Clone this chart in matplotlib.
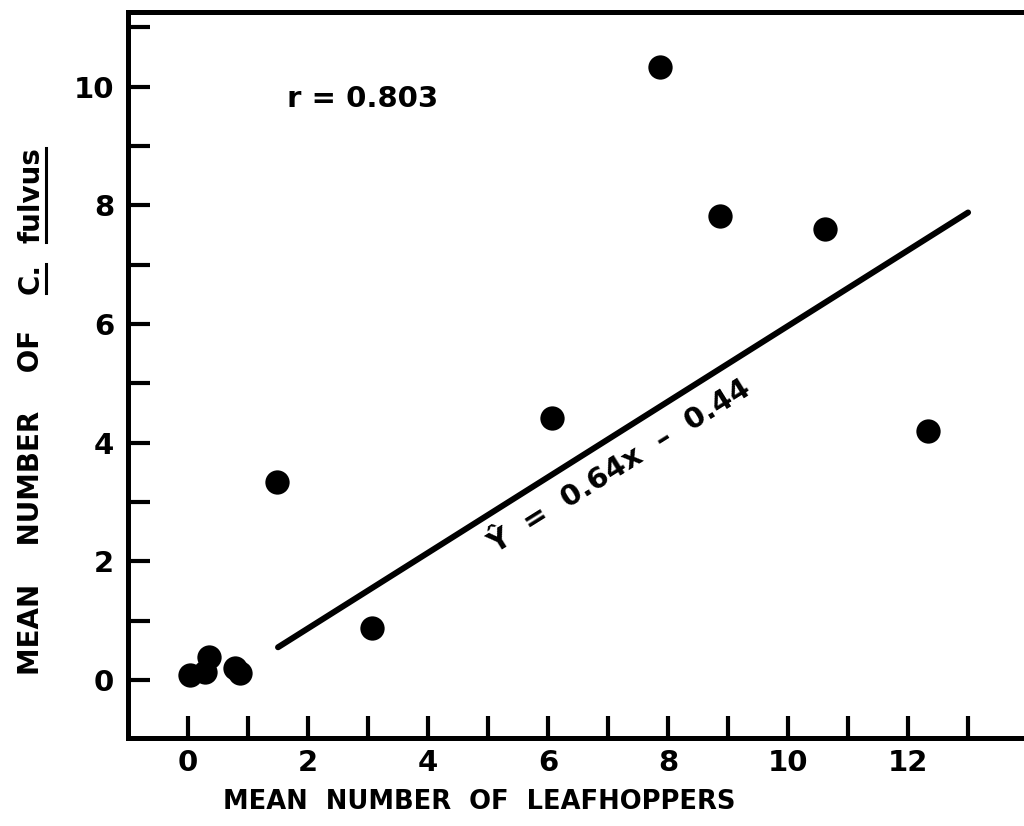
"""Leafhopper vs C. fulvus scatter with regression line."""
import matplotlib
matplotlib.use("Agg")
import matplotlib.pyplot as plt
from matplotlib.lines import Line2D

# mean number of leafhoppers (x) and C. fulvus (y)
leafhoppers = [0.03, 0.28, 0.35, 0.78, 0.87, 1.48, 3.07, 6.07, 7.87, 8.87, 10.62, 12.33]
fulvus      = [0.08, 0.13, 0.39, 0.20, 0.12, 3.34, 0.88, 4.42, 10.34, 7.82, 7.60, 4.20]

# fitted line endpoints
fit_x = [1.5, 13.0]
fit_y = [0.55, 7.88]

x_ticks = [0, 2, 4, 6, 8, 10, 12]
y_ticks = [0, 2, 4, 6, 8, 10]

W, H = 1024, 826


def main():
    plt.rcParams["font.family"] = ["DejaVu Sans"]
    plt.rcParams["font.weight"] = "bold"

    fig = plt.figure(figsize=(W / 100, H / 100), dpi=100)
    ax = fig.add_axes([0.125, 0.1065, 0.879, 0.879])

    ax.plot(fit_x, fit_y, color="black", linewidth=4.3, solid_capstyle="round")
    ax.plot(leafhoppers, fulvus, "o", color="black", markersize=17.5,
            markeredgewidth=0)

    ax.set_xlim(-1, 14)
    ax.set_ylim(-0.98, 11.26)

    ax.set_xticks(range(0, 14))
    ax.set_xticklabels([str(v) if v in x_ticks else "" for v in range(0, 14)])
    ax.set_yticks(range(0, 12))
    ax.set_yticklabels([str(v) if v in y_ticks else "" for v in range(0, 12)])
    ax.tick_params(direction="in", length=16, width=3, labelsize=21, color="black")
    ax.tick_params(axis="x", pad=8)
    ax.tick_params(axis="y", pad=10)
    for lab in ax.get_xticklabels() + ax.get_yticklabels():
        lab.set_fontweight("bold")

    for side in ("left", "bottom", "top"):
        ax.spines[side].set_linewidth(3.6)
    ax.spines["right"].set_visible(False)

    ax.set_xlabel("MEAN  NUMBER  OF  LEAFHOPPERS", fontsize=18.5, fontweight="bold")
    ax.xaxis.set_label_coords(0.39, -0.07)

    # y label in pieces so that "C." and "fulvus" can be underlined
    ylab_kw = dict(rotation=90, ha="center", va="center", fontsize=20, fontweight="bold")
    fig.text(31 / W, 1 - 502 / H, "MEAN    NUMBER    OF", **ylab_kw)
    t_c = fig.text(31 / W, 1 - 278 / H, "C.", **ylab_kw)
    t_f = fig.text(31 / W, 1 - 195 / H, "fulvus", **ylab_kw)

    ax.text(1.65, 9.8, "r = 0.803", fontsize=21, fontweight="bold", va="center")
    ax.text(7.2, 3.6, "Ŷ  =  0.64x  –  0.44", fontsize=21, fontweight="bold",
            rotation=32, rotation_mode="anchor", ha="center", va="center")

    fig.canvas.draw()
    r = fig.canvas.get_renderer()
    for t in (t_c, t_f):
        bb = t.get_window_extent(r)
        x = 46 / W
        fig.add_artist(Line2D([x, x], [(bb.y0 + 1) / H, (bb.y1 - 1) / H],
                              transform=fig.transFigure, color="black", linewidth=2.2))

    fig.savefig("out.png", dpi=100)


if __name__ == "__main__":
    main()
